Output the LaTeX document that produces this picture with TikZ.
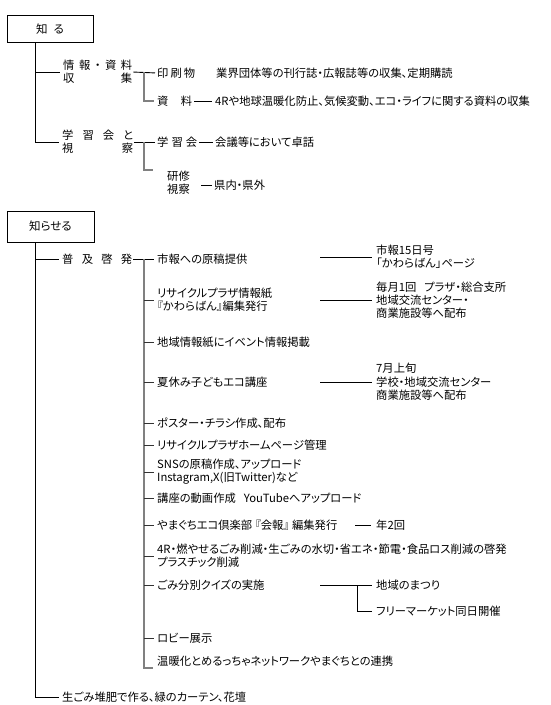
\documentclass[tikz,border=0pt]{standalone}
\usepackage{fontspec}
\newfontfamily\jp[RawFeature=+palt]{Noto Sans CJK JP}
\begin{document}
\begin{tikzpicture}[x=1pt,y=-1pt,
  txt/.style={anchor=west,inner sep=0pt,align=left,font=\jp\fontsize{11.3}{13.3}\selectfont},
  boxnode/.style={draw,line width=0.9pt,inner sep=0pt,font=\jp\fontsize{11.5}{13}\selectfont},
  trunk/.style={line width=1pt,black},
  branch/.style={line width=1.5pt,black!50},
  tick/.style={line width=0.9pt,black!80},
  link/.style={line width=0.9pt,black}]
\useasboundingbox[fill=white] (0,0) rectangle (550,705);

% ---------------- 知る ----------------
\node[boxnode,minimum width=86pt,minimum height=27pt] (box1) at (50,29) {知\hspace{6pt}る};
\coordinate (k1) at (35,42.5);
\node[txt] (n1) at (63,72) {\makebox[69pt][s]{情\hfill 報\hfill ・\hfill 資\hfill 料}\\\makebox[69pt][s]{収\hfill 集}};
\node[txt] (n11) at (157,73) {\makebox[38pt][s]{印\hfill 刷\hfill 物}};
\node[txt] (n11d) at (216,73) {業界団体等の刊行誌・広報誌等の収集、定期購読};
\node[txt] (n12) at (157,101) {\makebox[35pt][s]{資\hfill 料}};
\node[txt] (n12d) at (215,101) {4Rや地球温暖化防止、気候変動、エコ・ライフに関する資料の収集};
\node[txt] (n2) at (62,142) {\makebox[71pt][s]{学\hfill 習\hfill 会\hfill と}\\\makebox[71pt][s]{視\hfill 察}};
\node[txt] (n21) at (157,142) {\makebox[40pt][s]{学\hfill 習\hfill 会}};
\node[txt] (n21d) at (215,142) {会議等において卓話};
\node[txt] (n22) at (167,183) {研修\\視察};
\node[txt] (n22d) at (214,185) {県内・県外};
\coordinate (b1) at (144,72);
\coordinate (b2) at (144,142);
\coordinate (b2e) at (153,170);

\draw[trunk] (k1) |- ([xshift=-3pt]n2.west);
\draw[trunk] (k1 |- n1.west) -- ([xshift=-3pt]n1.west);
\draw[link,shorten <=1pt,shorten >=2pt] (n1.east) -- (n11.west);
\draw[branch] (b1) |- ([xshift=-3pt]n12.west);
\draw[link,shorten <=2pt,shorten >=3pt] (n12.east) -- (n12d.west);
\draw[link,shorten <=1pt,shorten >=2pt] (n2.east) -- (n21.west);
\draw[branch] (b2) |- (b2e);
\draw[link,shorten <=2pt,shorten >=2pt] (n21.east) -- (n21d.west);
\draw[link,shorten <=11pt,shorten >=2pt] (n22.east |- n22d.west) -- (n22d.west);

% ---------------- 知らせる ----------------
\node[boxnode,minimum width=87pt,minimum height=31pt] (box2) at (50.5,226.5) {知らせる};
\coordinate (k2) at (35,242);
\node[txt] (n3) at (62,259) {\makebox[70pt][s]{普\hfill 及\hfill 啓\hfill 発}};
\node[txt] (n4) at (62,697) {生ごみ堆肥で作る、緑のカーテン、花壇};
\coordinate (b3) at (144,259);
\coordinate (b3e) at (153,668);

\node[txt] (m1) at (157,259) {市報への原稿提供};
\node[txt] (m2) at (157,300) {リサイクルプラザ情報紙\\『かわらばん』編集発行};
\node[txt] (m3) at (157,342) {地域情報紙にイベント情報掲載};
\node[txt] (m4) at (157,382) {夏休み子どもエコ講座};
\node[txt] (m5) at (157,423) {ポスター・チラシ作成、配布};
\node[txt] (m6) at (157,445) {リサイクルプラザホームページ管理};
\node[txt] (m7) at (157,472) {SNSの原稿作成、アップロード\\Instagram,X(旧Twitter)など};
\node[txt] (m8) at (157,498) {講座の動画作成\hspace{8pt}YouTubeへアップロード};
\node[txt] (m9) at (157,525) {やまぐちエコ倶楽部\hspace{3pt}『会報』\hspace{3pt}編集発行};
\node[txt] (m10) at (157,556) {4R・燃やせるごみ削減・生ごみの水切・省エネ・節電・食品ロス削減の啓発\\プラスチック削減};
\node[txt] (m11) at (157,585) {ごみ分別クイズの実施};
\node[txt] (m12) at (157,638) {ロビー展示};
\node[txt] (m13) at (157,661) {温暖化とめるっちゃネットワークやまぐちとの連携};

\node[txt] (r1) at (376,257) {市報15日号\\「かわらばん」ページ};
\node[txt] (r2) at (376,300) {毎月1回\hspace{8pt}プラザ・総合支所\\地域交流センター・\\商業施設等へ配布};
\node[txt] (r4) at (376,382) {7月上旬\\学校・地域交流センター\\商業施設等へ配布};
\node[txt] (r9) at (376,525) {年2回};
\node[txt] (r11a) at (376,585) {地域のまつり};
\node[txt] (r11b) at (376,611) {フリーマーケット同日開催};

\coordinate (s1) at (320,257);
\coordinate (s2) at (320,300);
\coordinate (s4) at (320,382);
\coordinate (s9) at (355,525);
\coordinate (s11) at (320,585);
\coordinate (v11) at (357,585);

\draw[trunk] (k2) |- ([xshift=-3pt]n4.west);
\draw[trunk] (k2 |- n3.west) -- ([xshift=-3pt]n3.west);
\draw[link,shorten <=1pt,shorten >=3pt] (n3.east) -- (m1.west);
\draw[branch] (b3) |- (b3e);
\foreach \m in {m2,m3,m4,m5,m6,m7,m8,m9,m10,m11,m12}
  \draw[tick,shorten >=3pt] (b3 |- \m.west) -- (\m.west);

\draw[link,shorten >=4pt] (s1) -- (r1.west |- s1);
\draw[link,shorten >=4pt] (s2) -- (r2.west);
\draw[link,shorten >=4pt] (s4) -- (r4.west);
\draw[link,shorten >=5pt] (s9) -- (r9.west);
\draw[link,shorten >=4pt] (s11) -- (r11a.west);
\draw[link,shorten >=4pt] (v11) |- (r11b.west);
\end{tikzpicture}
\end{document}
